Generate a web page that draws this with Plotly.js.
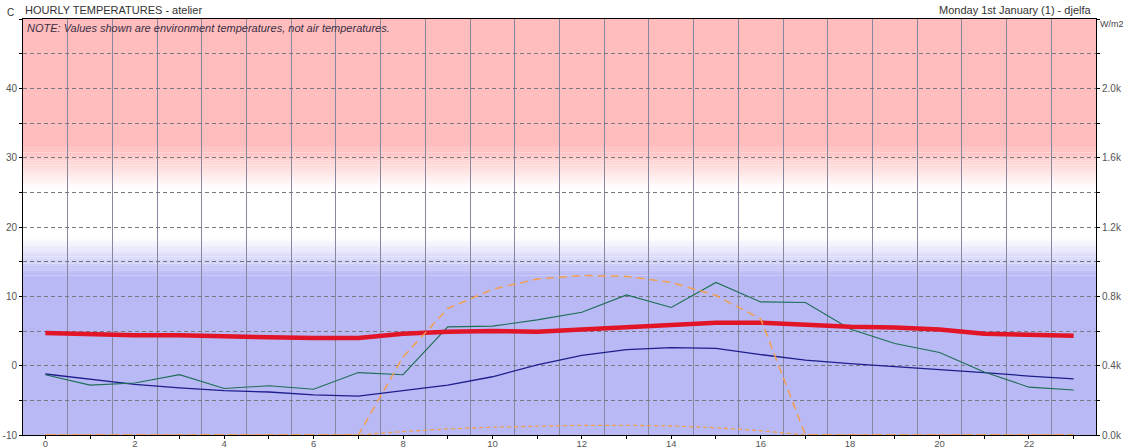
<!DOCTYPE html>
<html>
<head>
<meta charset="utf-8">
<script src="https://cdn.plot.ly/plotly-3.0.1.min.js"></script>
<style>html,body{margin:0;padding:0;background:#fff;}#chart{width:1126px;height:448px;}</style>
</head>
<body>
<div id="chart"></div>
<script>
// Hours of the day
const hours = [0,1,2,3,4,5,6,7,8,9,10,11,12,13,14,15,16,17,18,19,20,21,22,23];
// Environment temperature (thick red), C
const envTemp = [4.7,4.5,4.4,4.4,4.2,4.1,4.0,4.0,4.6,4.9,5.0,4.9,5.2,5.5,5.9,6.2,6.2,5.9,5.6,5.5,5.2,4.6,4.5,4.3];
// Outside temperature (green), C
const outTemp = [-1.3,-2.8,-2.5,-1.3,-3.3,-2.9,-3.4,-1.0,-1.3,5.6,5.7,6.6,7.7,10.2,8.4,12.0,9.2,9.1,5.3,3.2,1.9,-0.9,-3.1,-3.5];
// Inside temperature (dark blue), C
const inTemp = [-1.2,-2.0,-2.7,-3.2,-3.6,-3.8,-4.2,-4.4,-3.6,-2.8,-1.6,0.1,1.5,2.3,2.6,2.5,1.6,0.8,0.3,-0.1,-0.6,-1.0,-1.5,-1.9];
// Direct solar radiation, W/m2
const directRad = [0,0,0,0,0,0,0,0,450,730,840,900,920,915,880,805,670,0,0,0,0,0,0,0];
// Diffuse solar radiation, W/m2
const diffuseRad = [0,0,0,0,0,0,0,0,20,35,45,52,56,56,52,42,25,0,0,0,0,0,0,0];
// Axis tick labels
const xTickVals = hours;
const xTickText = hours.map(h => (h % 2 === 0 ? String(h) : ''));
const yTickVals = [-10,-5,0,5,10,15,20,25,30,35,40,45,50];
const yTickText = ['-10','','0','','10','','20','','30','','40','',''];
const y2TickVals = [0,200,400,600,800,1000,1200,1400,1600,1800,2000,2200,2400];
const y2TickText = ['0.0k','','0.4k','','0.8k','','1.2k','','1.6k','','2.0k','',''];

// background bands
const PINK = [255,189,189], WHITE = [255,255,255], BLUE = [185,185,245];
function rgb(c){return 'rgb('+c.map(Math.round).join(',')+')';}
function mix(a,b,t){return a.map((v,i)=>v+(b[i]-v)*t);}
const shapes = [];
function band(y0,y1,col){shapes.push({type:'rect',xref:'paper',yref:'y',x0:0,x1:1,y0:y0,y1:y1,fillcolor:rgb(col),line:{width:0},layer:'below'});}
function grad(y0,y1,c0,c1,n){
  const h=(y1-y0)/n;
  for(let i=0;i<n;i++){band(y0+i*h,y0+(i+1)*h+0.01,mix(c0,c1,(i+0.5)/n));}
}
band(-10,13,BLUE);
grad(13,18.5,BLUE,WHITE,16);
band(18.5,25.5,WHITE);
grad(25.5,31.5,WHITE,PINK,16);
band(31.5,50,PINK);

const traces = [
  {x:hours,y:directRad,yaxis:'y2',mode:'lines',line:{color:'rgb(242,160,80)',width:1.5,dash:'8px,5px'},hoverinfo:'skip'},
  {x:hours,y:diffuseRad,yaxis:'y2',mode:'lines',line:{color:'rgb(242,160,80)',width:1.3,dash:'4px,3px'},hoverinfo:'skip'},
  {x:hours,y:inTemp,mode:'lines',line:{color:'rgb(30,30,140)',width:1.3},hoverinfo:'skip'},
  {x:hours,y:outTemp,mode:'lines',line:{color:'rgb(30,110,85)',width:1.1},hoverinfo:'skip'},
  {x:hours,y:envTemp,mode:'lines',line:{color:'rgb(225,20,40)',width:4.5},hoverinfo:'skip'}
];

const font = {family:'Liberation Sans, Arial, sans-serif',size:10,color:'#444'};
const layout = {
  width:1126,height:448,
  margin:{l:23,r:30,t:19,b:13,pad:0},
  paper_bgcolor:'#fff',plot_bgcolor:'#fff',
  showlegend:false,
  font:font,
  xaxis:{range:[-0.5,23.5],tickmode:'array',tickvals:xTickVals,ticktext:xTickText,
    ticks:'outside',ticklen:3,tickcolor:'#000',showgrid:false,zeroline:false,
    showline:true,linecolor:'#000',linewidth:1,mirror:true,ticklabelstandoff:-3,
    minor:{tick0:0.5,dtick:1,showgrid:true,gridcolor:'rgb(135,135,160)',gridwidth:1,ticks:''},
    tickfont:{size:9.5,color:'#555'},fixedrange:true},
  yaxis:{range:[-10,50],tickmode:'array',tickvals:yTickVals,ticktext:yTickText,
    ticks:'outside',ticklen:3,tickcolor:'#000',showgrid:true,gridcolor:'rgb(120,120,130)',griddash:'4px,3px',gridwidth:1,
    zeroline:false,showline:true,linecolor:'#000',linewidth:1,
    tickfont:{size:10,color:'#555'},fixedrange:true},
  yaxis2:{range:[0,2400],overlaying:'y',side:'right',tickmode:'array',tickvals:y2TickVals,ticktext:y2TickText,
    ticks:'outside',ticklen:3,tickcolor:'#000',showgrid:false,zeroline:false,showline:true,linecolor:'#000',linewidth:1,
    tickfont:{size:10,color:'#555'},fixedrange:true},
  shapes:shapes,
  annotations:[
    {text:'C',xref:'paper',yref:'paper',x:-0.012,y:1,yshift:-1,xanchor:'center',yanchor:'bottom',showarrow:false,font:{size:10,color:'#333'}},
    {text:'HOURLY TEMPERATURES - atelier',xref:'paper',yref:'paper',x:0,xshift:0,y:1,yshift:1,yanchor:'bottom',xanchor:'left',showarrow:false,font:{size:11,color:'#333'}},
    {text:'Monday 1st January (1) - djelfa',xref:'paper',yref:'paper',x:1,xshift:-2,y:1,yshift:1,yanchor:'bottom',xanchor:'right',showarrow:false,font:{size:11,color:'#333'}},
    {text:'W/m2',xref:'paper',yref:'paper',x:1,xshift:2,y:1,yshift:-12,yanchor:'bottom',xanchor:'left',showarrow:false,font:{size:9,color:'#444'}},
    {text:'<i>NOTE: Values shown are environment temperatures, not air temperatures.</i>',xref:'paper',yref:'paper',x:0,xshift:2,y:1,yshift:-1,yanchor:'top',xanchor:'left',showarrow:false,font:{size:11,color:'#3a2f45'}}
  ]
};
Plotly.newPlot('chart',traces,layout,{displayModeBar:false,staticPlot:true});
</script>
</body>
</html>
